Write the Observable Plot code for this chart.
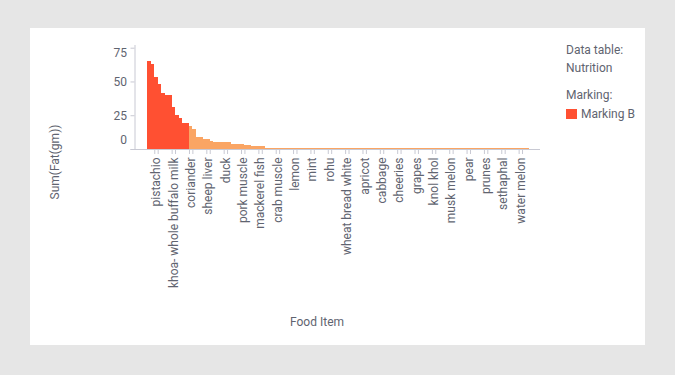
<!DOCTYPE html>
<html><head><meta charset="utf-8">
<script src="https://cdn.jsdelivr.net/npm/d3@7"></script>
<script src="https://cdn.jsdelivr.net/npm/@observablehq/plot@0.6"></script>
<style>
html,body{margin:0;padding:0;background:#e6e6e6;width:675px;height:375px;overflow:hidden;font-family:Roboto, sans-serif;}
#panel{position:absolute;left:30px;top:28px;width:615px;height:317px;background:#fff;}
#chart{position:absolute;left:0;top:0;}
.t{position:absolute;font-size:12px;color:#5f6470;white-space:nowrap;line-height:12px;}
</style></head><body>
<div id="panel"></div>
<div id="chart"></div>
<div class="t" style="left:566px;top:44px">Data table:</div>
<div class="t" style="left:566px;top:62px">Nutrition</div>
<div class="t" style="left:566px;top:89px">Marking:</div>
<div style="position:absolute;left:566px;top:109px;width:11px;height:10px;background:#FF5032"></div>
<div class="t" style="left:581px;top:108px">Marking B</div>
<div class="t" style="left:290px;top:316px">Food Item</div>
<div class="t" style="left:55px;top:162px;transform:translate(-50%,-50%) rotate(-90deg)">Sum(Fat(gm))</div>
<script>
const items = [
"walnut","coconut dry","pistachio","cashew nut","groundnut",
"sesame seeds","mustard seeds","khoa- whole buffalo milk","cheese","soya bean",
"chilgoza","egg yolk","coriander","garden cress seeds","mutton",
"egg hen","pork","sheep liver","milk buffalo","beef",
"goat liver","bengal gram","duck","fowl","milk cow",
"curd","chicken","pork muscle","black gram","oats",
"maize","bajra","mackerel fish","sardine","jowar",
"wheat flour","prawn","crab muscle","rice","ragi",
"spinach","banana","lemon","amaranth","orange",
"guava","mango","mint","catla","peas",
"carrot","beetroot","rohu","potato","onion",
"tomato","brinjal","wheat bread white","cauliflower","okra",
"radish","pumpkin","apricot","bitter gourd","bottle gourd",
"cucumber","ridge gourd","cabbage","capsicum","drumstick",
"french beans","lettuce","cheeries","ginger","garlic",
"apple","papaya","grapes","pineapple","jackfruit",
"lychee","fig","knol khol","jamun","pomegranate",
"plum","peach","musk melon","sapota","sweet lime",
"amla","dates","pear","raisins","tamarind",
"turnip","yam","prunes","colocasia","sweet potato",
"tapioca","ash gourd","sethaphal","snake gourd","tinda",
"parwal","kovai","water melon","cluster beans","celery"];

const fat = [
65.0,62.7,53.6,47.8,41.8,
40.3,40.1,31.3,25.4,23.1,
19.4,19.3,17.2,14.9,9.2,
9.1,7.5,7.4,6.0,5.3,
5.2,5.2,5.1,5.1,3.7,
3.7,3.6,3.6,3.0,2.9,
2.2,2.2,2.1,2.1,0.9,
0.9,0.9,0.9,0.9,0.9,
0.8,0.8,0.8,0.8,0.8,
0.8,0.8,0.8,0.8,0.8,
0.7,0.7,0.7,0.7,0.7,
0.7,0.7,0.7,0.7,0.7,
0.7,0.7,0.7,0.7,0.6,
0.6,0.6,0.6,0.6,0.6,
0.6,0.6,0.6,0.6,0.6,
0.6,0.6,0.6,0.6,0.6,
0.6,0.6,0.5,0.5,0.5,
0.5,0.5,0.5,0.5,0.5,
0.5,0.5,0.5,0.5,0.5,
0.5,0.5,0.5,0.5,0.5,
0.5,0.5,0.5,0.5,0.5,
0.5,0.5,0.5,0.5,0.5];

const markedItems = ["walnut","coconut dry","pistachio","cashew nut","groundnut","sesame seeds",
"mustard seeds","khoa- whole buffalo milk","cheese","soya bean","chilgoza","egg yolk"];

const tickLabels = ["pistachio","khoa- whole buffalo milk","coriander","sheep liver","duck",
"pork muscle","mackerel fish","crab muscle","lemon","mint","rohu","wheat bread white",
"apricot","cabbage","cheeries","grapes","knol khol","musk melon","pear","prunes",
"sethaphal","water melon"];

const yTicks = [0, 25, 50, 75];

const markedColor = "#FF5032";
const otherColor = "#FAA564";
const axisColor = "#c8c9d3";
const textColor = "#5f6470";

const data = items.map((item, i) => ({item, fat: fat[i], marked: markedItems.includes(item)}));

const chart = Plot.plot({
  width: 675, height: 375,
  marginLeft: 134.5, marginRight: 135, marginTop: 45, marginBottom: 226,
  style: {fontFamily: "Roboto, sans-serif", fontSize: "12px", color: textColor, background: "transparent", overflow: "visible"},
  x: {type: "band", domain: items, padding: 0, insetLeft: 12.8, insetRight: 11},
  y: {domain: [0, 77]},
  marks: [
    Plot.barY(data.filter(d => !d.marked), {x: "item", y: "fat", fill: otherColor, shapeRendering: "crispEdges"}),
    Plot.barY(data.filter(d => d.marked), {x: "item", y: "fat", fill: markedColor, shapeRendering: "crispEdges"}),
    Plot.ruleY([0], {stroke: axisColor, insetLeft: -4}),
    Plot.frame({anchor: "left", stroke: axisColor}),
    Plot.axisY(yTicks, {tickSize: 4, fill: "none", stroke: axisColor, label: null}),
    Plot.axisY([25, 50], {tickSize: 0, tickPadding: 8, fill: textColor, label: null}),
    Plot.axisY([0], {tickSize: 0, tickPadding: 8, fill: textColor, label: null, dy: -9}),
    Plot.axisY([75], {tickSize: 0, tickPadding: 8, fill: textColor, label: null, dy: 4.8}),
    Plot.axisX(tickLabels, {tickSize: 5, fill: "none", stroke: axisColor, dx: -1.7, label: null}),
    Plot.axisX(tickLabels, {tickSize: 5, fill: "none", stroke: axisColor, dx: 1.7, label: null}),
    Plot.axisX(tickLabels, {tickSize: 0, tickPadding: 8, tickRotate: -90, fill: textColor, label: null})
  ]
});
document.getElementById("chart").appendChild(chart);
</script>
</body></html>
